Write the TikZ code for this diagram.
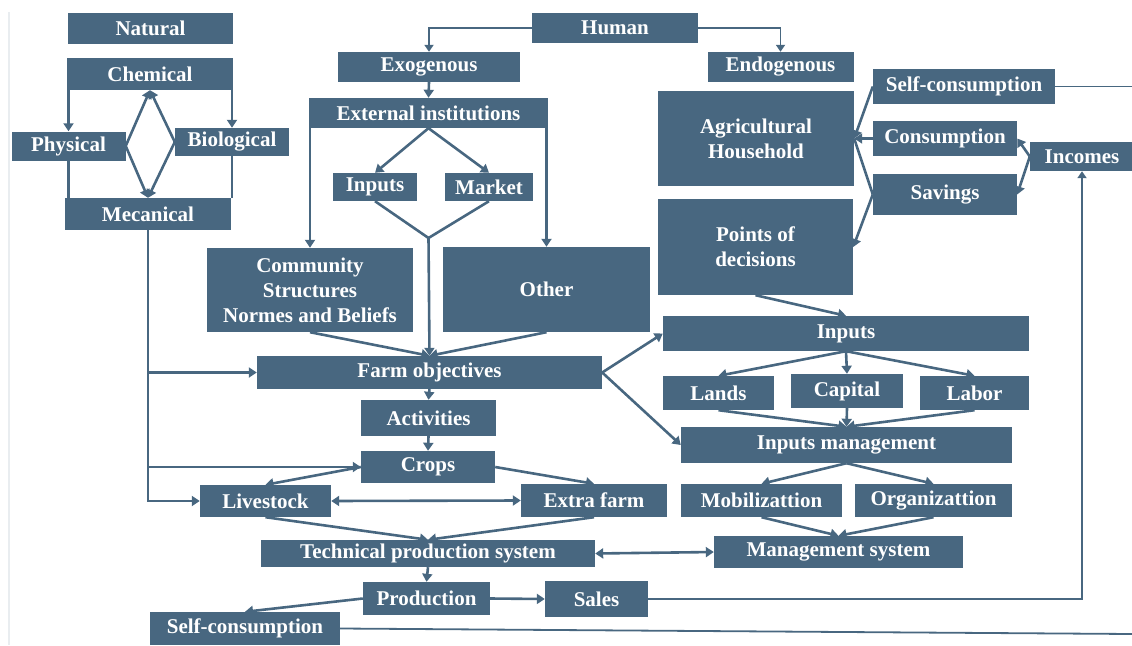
\documentclass[tikz,border=0pt]{standalone}
\usepackage{fontspec}
\setmainfont{Liberation Serif}
\usetikzlibrary{arrows.meta, positioning}
\definecolor{boxblue}{RGB}{72,103,128}

\begin{document}
\begin{tikzpicture}[
    x=1pt, y=-1pt,
    box/.style={rectangle, fill=boxblue, text=white, inner sep=0pt, align=center,
      font=\bfseries\fontsize{21}{25}\selectfont},
    dims/.style 2 args={minimum width=#1pt, minimum height=#2pt},
    line/.style={draw=boxblue, line width=2.6pt},
    thin/.style={draw=boxblue, line width=1.8pt},
    arrow/.style={line, -{Triangle[width=10pt,length=8pt]}},
    arrowthin/.style={thin, -{Triangle[width=9pt,length=7pt]}},
    darrow/.style={line, {Triangle[width=10pt,length=8pt]}-{Triangle[width=10pt,length=8pt]}}
  ]
    \useasboundingbox (0,0) rectangle (1132,645);
    \draw[boxblue!12, line width=1.5pt] (9,12) -- (9,645);

    % natural side
    \node[box, dims={165}{31}] (natural) at (150.5,28.5) {Natural};
    \node[box, dims={166}{32}] (chemical) at (150,74) {Chemical};
    \node[box, dims={114}{29}] (physical) at (68.5,146) {Physical};
    \node[box, dims={114}{28}] (biological) at (232,142) {Biological};
    \node[box, dims={166}{32}] (mecanical) at (148,214) {Mecanical};

    % human side
    \node[box, dims={166}{30}] (human) at (615,28) {Human};
    \node[box, dims={182}{30}] (exogenous) at (429,67) {Exogenous};
    \node[box, dims={146}{30}] (endogenous) at (780.5,67) {Endogenous};
    \node[box, dims={239}{30}] (extinst) at (428.5,113) {External institutions};
    \node[box, dims={84}{28}] (inp) at (375,187) {Inputs};
    \node[box, dims={88}{28}] (mkt) at (489,187) {Market};
    \node[box, dims={206}{84}] (community) at (310,290) {Community\\Structures\\Normes and Beliefs};
    \node[box, dims={207}{85}] (other) at (546.5,289.5) {Other};
    \node[box, dims={196}{95}] (household) at (756,138.5) {Agricultural\\Household};
    \node[box, dims={195}{96}] (points) at (755.5,247) {Points of\\decisions};
    \node[box, dims={182}{35}] (selfc) at (964,86.5) {Self-consumption};
    \node[box, dims={144}{35}] (consumption) at (945,138.5) {Consumption};
    \node[box, dims={144}{41}] (savings) at (945,194.5) {Savings};
    \node[box, dims={104}{29}] (incomes) at (1082,156.5) {Incomes};

    % farm
    \node[box, dims={345}{33}] (farmobj) at (429.5,372.5) {Farm objectives};
    \node[box, dims={135}{36}] (activities) at (428.5,418) {Activities};
    \node[box, dims={134}{32}] (crops) at (428,467) {Crops};
    \node[box, dims={131}{32}] (livestock) at (265.5,501) {Livestock};
    \node[box, dims={146}{33}] (extra) at (594,500.5) {Extra farm};
    \node[box, dims={334}{27}] (tps) at (428,553.5) {Technical production system};
    \node[box, dims={127}{33}] (production) at (426.5,598.5) {Production};
    \node[box, dims={103}{36}] (sales) at (596.5,599) {Sales};
    \node[box, dims={190}{33}] (selfcb) at (245,628.5) {Self-consumption};

    % inputs
    \node[box, dims={366}{35}] (inpbig) at (846,333.5) {Inputs};
    \node[box, dims={111}{34}] (lands) at (718.5,393) {Lands};
    \node[box, dims={112}{34}] (capital) at (847,391) {Capital};
    \node[box, dims={109}{34}] (labor) at (974.5,393) {Labor};
    \node[box, dims={331}{36}] (inmgmt) at (846.5,445) {Inputs management};
    \node[box, dims={161}{33}] (mobil) at (761.5,500.5) {Mobilizattion};
    \node[box, dims={157}{33}] (organ) at (933.5,500.5) {Organizattion};
    \node[box, dims={249}{32}] (mgmt) at (838.5,552) {Management system};

    \coordinate (conv) at (428.5,238);
    \coordinate (rtop) at (1132,86.5);
    \coordinate (rbot) at (1132,634);

    % natural links
    \draw[arrow] (physical.north |- chemical.south) -- (physical.north);
    \draw[arrow] (biological.north |- chemical.south) -- (biological.north);
    \draw[line] (physical.south) -- (physical.south |- mecanical.north);
    \draw[line] (biological.south) -- (biological.south |- mecanical.north);
    \draw[arrow] (physical.east) -- (chemical.south);
    \draw[arrow] (biological.west) -- (chemical.south);
    \draw[arrow] (physical.east) -- (mecanical.north);
    \draw[arrow] (biological.west) -- (mecanical.north);
    \draw[arrow] (mecanical.south) |- (livestock.west);
    \draw[arrow] (mecanical.south |- farmobj.west) -- (farmobj.west);
    \draw[arrow] (mecanical.south |- crops.west) -- (crops.west);

    % human links
    \draw[arrowthin] (human.west) -| (exogenous.north);
    \draw[arrowthin] (human.east) -| (endogenous.north);
    \draw[arrow] (exogenous.south) -- (extinst.north);
    \draw[arrow] (community.north |- extinst.south) -- (community.north);
    \draw[arrow] (other.north |- extinst.south) -- (other.north);
    \draw[arrow] (extinst.south) -- (inp.north);
    \draw[arrow] (extinst.south) -- (mkt.north);
    \draw[line] (inp.south) -- (conv) -- (mkt.south);
    \draw[arrow] (conv) -- (farmobj.north);
    \draw[arrow] (community.south) -- (farmobj.north);
    \draw[arrow] (other.south) -- (farmobj.north);

    \draw[arrow] (selfc.west) -- (household.east);
    \draw[arrow] (consumption.west) -- (household.east);
    \draw[line] (household.east) -- (savings.west);
    \draw[arrow] (savings.west) -- (points.east);
    \draw[arrow] (incomes.west) -- (consumption.east);
    \draw[arrow] (incomes.west) -- (savings.east);
    \draw[thin] (selfc.east) -- (rtop);

    % farm links
    \draw[arrow] (farmobj.south) -- (activities.north);
    \draw[arrow] (activities.south) -- (crops.north);
    \draw[arrow] (crops.west) -- (livestock.north);
    \draw[arrow] (crops.east) -- (extra.north);
    \draw[darrow] (livestock.east) -- (extra.west);
    \draw[arrow] (livestock.south) -- (tps.north);
    \draw[arrow] (extra.south) -- (tps.north);
    \draw[darrow] (tps.east) -- (mgmt.west);
    \draw[arrow] (tps.south) -- (production.north);
    \draw[arrow] (production.east) -- (sales.west);
    \draw[arrow] (production.west) -- (selfcb.north);
    \draw[thin] (selfcb.east) -- (rbot);
    \draw[arrowthin] (sales.east) -| (incomes.south);

    % inputs links
    \draw[arrow] (points.south) -- (inpbig.north);
    \draw[arrow] (farmobj.east) -- (inpbig.west);
    \draw[arrow] (farmobj.east) -- (inmgmt.west);
    \foreach \n in {lands, capital, labor} {
      \draw[arrow] (inpbig.south) -- (\n.north);
      \draw[arrow] (\n.south) -- (inmgmt.north);
    }
    \draw[arrow] (inmgmt.south) -- (mobil.north);
    \draw[arrow] (inmgmt.south) -- (organ.north);
    \draw[arrow] (mobil.south) -- (mgmt.north);
    \draw[arrow] (organ.south) -- (mgmt.north);
  \end{tikzpicture}
\end{document}
